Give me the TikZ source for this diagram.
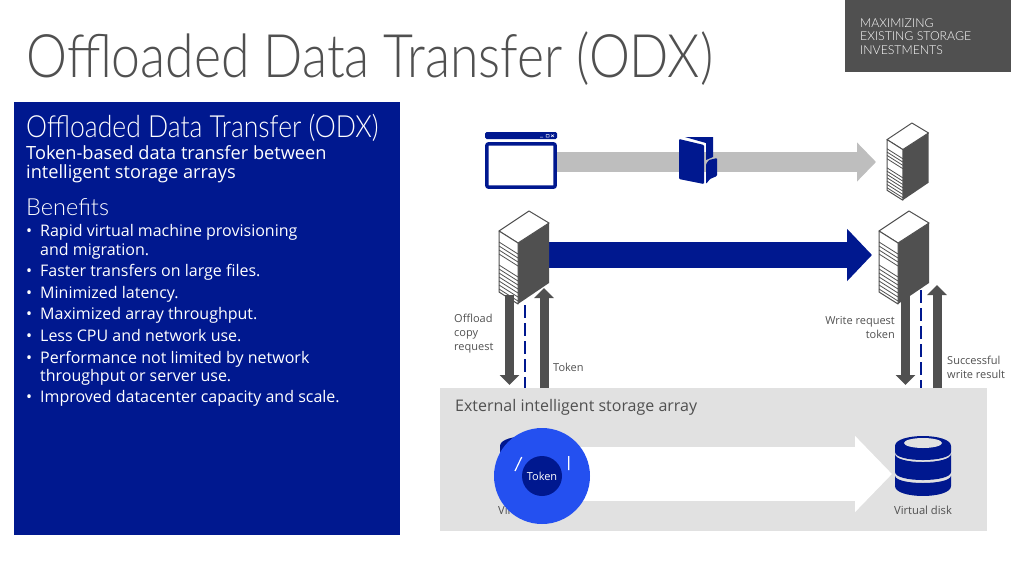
\documentclass[tikz,border=0pt]{standalone}
\usepackage{fontspec}
\usepackage{graphicx}
\setmainfont{Open Sans}
\newfontfamily\lightfont{Lato Light}
\usetikzlibrary{arrows.meta}
\definecolor{navy}{HTML}{00188F}
\definecolor{slate}{HTML}{505050}
\definecolor{panelgray}{HTML}{E1E1E1}
\definecolor{flowgray}{HTML}{BEBEBE}
\definecolor{tokenblue}{HTML}{2450F0}
\begin{document}
\begin{tikzpicture}[x=1pt, y=-1pt]
        \tikzset{
            sized/.style={font=\fontsize{#1}{#1}\selectfont},
            lightsized/.style={font=\fontsize{#1}{#1}\selectfont\lightfont},
            lefttext/.style={anchor=base west, inner sep=0pt},
            grayflow/.style={line width=20pt, draw=flowgray, -{Triangle[length=19pt, width=38pt]}},
            navyflow/.style={line width=26pt, draw=navy, -{Triangle[length=25pt, width=51pt]}},
            whiteflow/.style={line width=54pt, draw=white, -{Triangle[length=37pt, width=74pt]}},
            callflow/.style={line width=9pt, draw=slate, -{Triangle[length=10pt, width=19pt]}},
            linkline/.style={draw=navy, line width=1.4pt, dash pattern=on 13pt off 5pt},
            rack/.pic={
                \fill[slate] (19,32) -- (50,12) -- (50,72) -- (19,93) -- cycle;
                \draw[slate, line width=1pt, fill=white, line join=round] (30,0) -- (50,12) -- (19,32) -- (0,20) -- cycle;
                \draw[slate, line width=1pt, fill=white, line join=round] (0,20) -- (19,32) -- (19,93) -- (0,81) -- cycle;
                \foreach \yy in {31,35,39,43,54,58,62,66,70,74,78}
                    \draw[slate, line width=0.8pt] (0,\yy) -- (19,\yy+12);
            },
            vdisk/.pic={
                \fill[navy] (-28,-20) .. controls (-28,-33.3) and (28,-33.3) .. (28,-20) -- (28,-14) .. controls (28,-3.3) and (-28,-3.3) .. (-28,-14) -- cycle;
                \fill[panelgray] (0,-23) ellipse (19 and 5);
                \fill[navy] (-28,-12) .. controls (-28,-1.3) and (28,-1.3) .. (28,-12) -- (28,6) .. controls (28,16.7) and (-28,16.7) .. (-28,6) -- cycle;
                \fill[navy] (-28,9.5) .. controls (-28,19.5) and (28,19.5) .. (28,9.5) -- (28,20) .. controls (28,33.3) and (-28,33.3) .. (-28,20) -- cycle;
            }
        }

        \useasboundingbox (0,0) rectangle (1024,576);

        \node[lefttext, lightsized=60, text=slate] (title) at (26,77) {\scalebox{0.862}[1]{Offloaded Data Transfer (ODX)}};

        \fill[slate] (845,0) rectangle (1011,72);
        \node[anchor=west, inner sep=0pt, lightsized=12.3, text=white, align=left] (theme) at (860,36.5) {MAXIMIZING\\[1.2pt]EXISTING STORAGE\\[1.2pt]INVESTMENTS};

        \fill[navy] (14,102) rectangle (400,535);
        \node[lefttext, lightsized=30.5, text=white] (sidetitle) at (26,137) {\scalebox{0.87}[1]{Offloaded Data Transfer (ODX)}};
        \node[lefttext, sized=18.2, text=white] (subtitle) at (26,159) {Token-based data transfer between};
        \node[lefttext, sized=18.2, text=white] (subtitleb) at (26,178) {intelligent storage arrays};
        \node[lefttext, lightsized=23.5, text=white] (benefits) at (26,215) {Benefits};

        \foreach \yy/\txt [count=\i] in {
            236/Rapid virtual machine provisioning,
            276/Faster transfers on large files.,
            298/Minimized latency.,
            319/Maximized array throughput.,
            341/Less CPU and network use.,
            363/Performance not limited by network,
            402/Improved datacenter capacity and scale.}
        {
            \node[lefttext, sized=16, text=white] (dot\i) at (26,\yy) {•};
            \node[lefttext, sized=16, text=white] (benefit\i) at (40,\yy) {\txt};
        }
        \node[lefttext, sized=16, text=white] (benefit1b) at (40,255) {and migration.};
        \node[lefttext, sized=16, text=white] (benefit6b) at (40,381) {throughput or server use.};

        \coordinate (windowedge) at (557,162);
        \coordinate (topserveredge) at (876,162);
        \draw[grayflow] (windowedge) -- (topserveredge);

        \fill[navy, rounded corners=1.5pt] (485,132) rectangle (557,139);
        \draw[navy, line width=3.5pt, fill=white, rounded corners=2pt] (486.8,143.8) rectangle (555.2,187.2);
        \draw[white, line width=0.5pt] (540,137) -- (543,137) (546,134.5) rectangle (549,137) (551,134.5) -- (554,137) (554,134.5) -- (551,137);

        \fill[navy] (685,137) -- (713,137) -- (713,157) -- (706,160) -- (706,143) -- cycle;
        \fill[navy, rounded corners=1pt] (679,139) -- (704,145) -- (704,184) -- (679,179) -- cycle;
        \fill[navy, rounded corners=1pt] (709,160) -- (717,158) -- (717,176) -- (710,179) -- (706,184) -- (706,164) -- cycle;

        \pic[scale=0.83] (topserver) at (887,123) {rack};

        \coordinate (srcedge) at (549,255);
        \coordinate (dstedge) at (872,255);
        \draw[navyflow] (srcedge) -- (dstedge);

        \fill[panelgray] (440,388) rectangle (987,531);
        \node[lefttext, sized=16, text=slate] (arraylabel) at (455,411) {External intelligent storage array};

        \coordinate (copystart) at (545,474);
        \coordinate (copyend) at (892,474);
        \draw[whiteflow] (copystart) -- (copyend);

        \coordinate (srcdown) at (509.5,295);
        \coordinate (srcdownend) at (509.5,385);
        \coordinate (srcup) at (544,388);
        \coordinate (srcupend) at (544,288);
        \coordinate (srclink) at (525,305);
        \coordinate (srclinkend) at (525,388);
        \coordinate (dstdown) at (905.5,295);
        \coordinate (dstdownend) at (905.5,385);
        \coordinate (dstup) at (937,388);
        \coordinate (dstupend) at (937,285);
        \coordinate (dstlink) at (921,290);
        \coordinate (dstlinkend) at (921,388);
        \draw[callflow] (srcup) -- (srcupend);
        \draw[callflow] (dstup) -- (dstupend);
        \draw[linkline] (srclink) -- (srclinkend);
        \draw[linkline] (dstlink) -- (dstlinkend);
        \pic (srcserver) at (499,211) {rack};
        \pic (dstserver) at (879,211) {rack};
        \draw[callflow] (srcdown) -- (srcdownend);
        \draw[callflow] (dstdown) -- (dstdownend);

        \node[anchor=west, inner sep=0pt, sized=11, text=slate, align=left] (offloadlabel) at (454,334) {Offload\\[3pt]copy\\[3pt]request};
        \node[anchor=west, inner sep=0pt, sized=11, text=slate] (tokenlabel) at (553,367) {Token};
        \node[anchor=east, inner sep=0pt, sized=11, text=slate, align=right] (writelabel) at (895,328) {Write request\\[3pt]token};
        \node[anchor=west, inner sep=0pt, sized=11, text=slate, align=left] (resultlabel) at (947,367) {Successful\\[3pt]write result};

        \pic (srcdisk) at (528,466) {vdisk};
        \pic (dstdisk) at (923,466) {vdisk};
        \node[sized=11.2, text=slate, inner sep=0pt] (srcdisklabel) at (527,510) {Virtual disk};
        \node[sized=11.2, text=slate, inner sep=0pt] (dstdisklabel) at (923,510) {Virtual disk};

        \fill[tokenblue] (542,476) circle (48);
        \fill[navy] (542,476) circle (20);
        \draw[white, line width=1.2pt] (521.7,457) -- (515,471) (568.7,456) -- (568.7,470);
        \node[sized=11, text=white, inner sep=0pt] (tokendisc) at (542,476) {Token};
\end{tikzpicture}
\end{document}
